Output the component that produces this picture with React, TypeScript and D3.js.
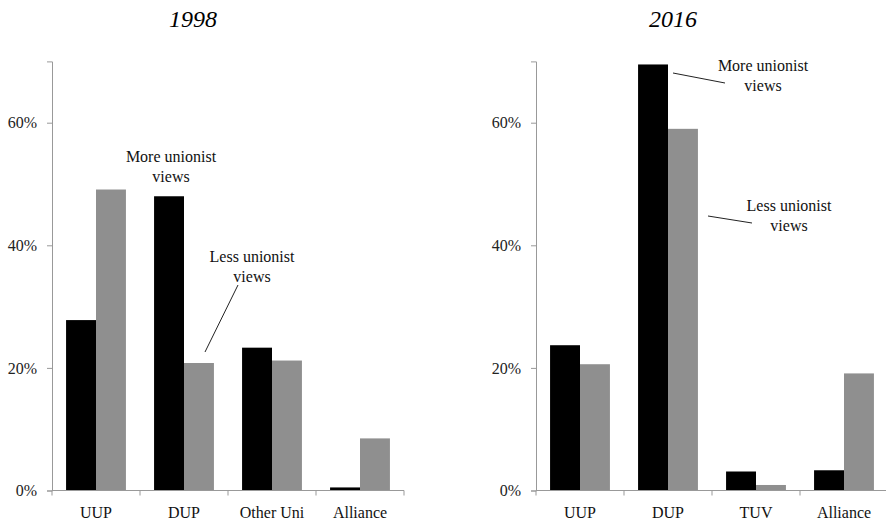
import React, { useEffect, useRef } from "react";
import * as d3 from "d3";

const series = ["More unionist views", "Less unionist views"];
const colors = ["#000000", "#8f8f8f"];

const categories1998 = ["UUP", "DUP", "Other Uni", "Alliance"];
const more1998 = [27.8, 48.0, 23.3, 0.5];
const less1998 = [49.1, 20.8, 21.2, 8.5];

const categories2016 = ["UUP", "DUP", "TUV", "Alliance"];
const more2016 = [23.7, 69.5, 3.1, 3.3];
const less2016 = [20.6, 59.0, 0.9, 19.1];

const yTicks = [0, 20, 40, 60];

const FONT = "Liberation Serif, DejaVu Serif, serif";

const App = () => {
  const ref = useRef(null);

  useEffect(() => {
    drawChart();
  }, []);

  const drawPanel = (svg, opts) => {
    const { left, title, titleX, cats, more, less, notes } = opts;
    const width = 352;
    const y = d3.scaleLinear().domain([0, 70]).range([490.5, 61.4]);
    const x = d3.scaleBand().domain(cats).range([left, left + width]).padding(0);
    const xi = d3
      .scaleBand()
      .domain(series)
      .range([0, x.bandwidth()])
      .paddingInner(0)
      .paddingOuter(0.47);

    const g = svg.append("g").attr("font-family", FONT);

    // title
    g.append("text")
      .attr("x", titleX)
      .attr("y", 27)
      .attr("text-anchor", "middle")
      .attr("font-style", "italic")
      .attr("font-size", 24)
      .text(title);

    // y axis
    const yAxis = g
      .append("g")
      .attr("transform", `translate(${left},0)`)
      .call(
        d3
          .axisLeft(y)
          .tickValues(yTicks)
          .tickSizeOuter(0)
          .tickSize(5)
          .tickPadding(10)
          .tickFormat((d) => d + "%"),
      );
    yAxis.attr("font-family", FONT).attr("font-size", 16);
    yAxis.select(".domain").attr("stroke", "#999");
    yAxis.selectAll(".tick line").attr("stroke", "#999");
    yAxis.selectAll(".tick text").attr("fill", "#222");

    // bars
    const rows = cats.map((c, i) => ({ cat: c, vals: [more[i], less[i]] }));
    rows.forEach((r) => {
      r.vals.forEach((v, j) => {
        g.append("rect")
          .attr("x", x(r.cat) + xi(series[j]))
          .attr("y", y(v))
          .attr("width", xi.bandwidth())
          .attr("height", y(0) - y(v))
          .attr("fill", colors[j]);
      });
    });

    // x axis
    g.append("line")
      .attr("x1", left)
      .attr("x2", left + width)
      .attr("y1", y(0))
      .attr("y2", y(0))
      .attr("stroke", "#999");
    const bounds = cats.map((c) => x(c)).concat([left + width]);
    g.selectAll(".xt")
      .data(bounds)
      .enter()
      .append("line")
      .attr("x1", (d) => d)
      .attr("x2", (d) => d)
      .attr("y1", y(0))
      .attr("y2", y(0) + 5)
      .attr("stroke", "#999");
    g.selectAll(".xl")
      .data(cats)
      .enter()
      .append("text")
      .attr("x", (d) => x(d) + x.bandwidth() / 2)
      .attr("y", 518)
      .attr("text-anchor", "middle")
      .attr("font-size", 16)
      .attr("fill", "#111")
      .text((d) => d);

    // annotations
    notes.forEach((n) => {
      n.lines.forEach((t, k) => {
        g.append("text")
          .attr("x", n.x)
          .attr("y", n.y + k * 20)
          .attr("text-anchor", "middle")
          .attr("font-size", 16)
          .attr("fill", "#111")
          .text(t);
      });
      if (n.line) {
        g.append("line")
          .attr("x1", n.line[0])
          .attr("y1", n.line[1])
          .attr("x2", n.line[2])
          .attr("y2", n.line[3])
          .attr("stroke", "#222")
          .attr("stroke-width", 1);
      }
    });
  };

  const drawChart = () => {
    if (!ref.current) return;
    d3.select(ref.current).selectAll("*").remove();

    const svg = d3
      .select(ref.current)
      .append("svg")
      .attr("width", 886)
      .attr("height", 522)
      .style("display", "block");

    drawPanel(svg, {
      left: 52,
      title: "1998",
      titleX: 193,
      cats: categories1998,
      more: more1998,
      less: less1998,
      notes: [
        { x: 171, y: 162, lines: ["More unionist", "views"], line: null },
        { x: 252, y: 262, lines: ["Less unionist", "views"], line: [238, 285, 205, 352] },
      ],
    });

    drawPanel(svg, {
      left: 536,
      title: "2016",
      titleX: 673,
      cats: categories2016,
      more: more2016,
      less: less2016,
      notes: [
        { x: 763, y: 71, lines: ["More unionist", "views"], line: [673, 73, 725, 83] },
        { x: 789, y: 211, lines: ["Less unionist", "views"], line: [708, 216, 752, 223] },
      ],
    });
  };

  return (
    <div
      ref={ref}
      style={{ position: "absolute", left: 0, top: 0, width: 886, height: 522, background: "#fff" }}
    />
  );
};

export default App;
